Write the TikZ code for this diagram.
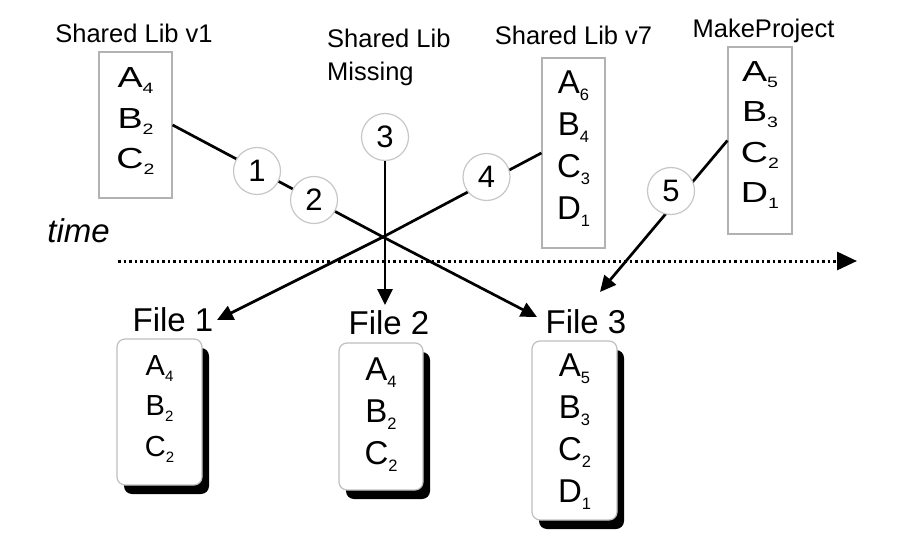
\documentclass[tikz,border=0pt]{standalone}
\usepackage{fontspec}
\setmainfont{Liberation Sans}
\newfontfamily\widefont[FakeStretch=1.3]{Liberation Sans}
\usetikzlibrary{arrows.meta,shadows}
\newcommand\subA[1]{\raisebox{-6pt}{\fontsize{15}{15}\selectfont #1}}
\newcommand\subB[1]{\raisebox{-7pt}{\fontsize{16.5}{16.5}\selectfont #1}}
\newcommand\rows[2]{\raisebox{#1}[0pt][0pt]{\begin{tabular}[b]{@{}c@{}}#2\end{tabular}}}
\begin{document}
\begin{tikzpicture}[x=1pt,y=-1pt,
  libbox/.style={draw=black!30, line width=1.2pt, fill=white, inner sep=0pt},
  filebox/.style={draw=black!25, line width=1.2pt, fill=white, inner sep=0pt, rounded corners=8pt,
    drop shadow={shadow xshift=7pt,shadow yshift=-9pt,opacity=1,fill=black}},
  small/.style={font=\fontsize{29}{40.5}\selectfont},
  widesmall/.style={font=\widefont\fontsize{29}{40.5}\selectfont},
  big/.style={font=\fontsize{33}{42}\selectfont},
  lbl/.style={font=\fontsize{25.5}{33}\selectfont, inner sep=0pt, anchor=base},
  flbl/.style={font=\fontsize{33}{33}\selectfont, inner sep=0pt, anchor=base},
  num/.style={circle, draw=black!22, line width=1.2pt, fill=white, minimum size=47pt, inner sep=0pt,
    font=\fontsize{31}{31}\selectfont},
  conn/.style={line width=2.7pt},
  arr/.style={conn, -{Triangle[length=16pt,width=15pt]}},
  timeline/.style={line width=3pt, dash pattern=on 2.8pt off 2.7pt, -{Triangle[length=20pt,width=18pt]}},
]
\useasboundingbox (0,0) rectangle (910,556);

% source boxes
\node[libbox, widesmall, minimum width=73pt, minimum height=146pt] (v1) at (135.5,125)
  {\rows{-44pt}{A\subA{4}\\B\subA{2}\\C\subA{2}}};
\node[libbox, big, minimum width=63pt, minimum height=190pt] (v7) at (573.5,153)
  {\rows{-67pt}{A\subB{6}\\B\subB{4}\\C\subB{3}\\D\subB{1}}};
\node[libbox, widesmall, minimum width=64pt, minimum height=187pt] (mp) at (760,140.5)
  {\rows{-62.5pt}{A\subA{5}\\B\subA{3}\\C\subA{2}\\D\subA{1}}};

% file boxes
\node[filebox, small, minimum width=85pt, minimum height=146pt] (f1) at (159.5,412)
  {\rows{-44pt}{A\subA{4}\\B\subA{2}\\C\subA{2}}};
\node[filebox, big, minimum width=84pt, minimum height=147pt] (f2) at (381,416.5)
  {\rows{-47.5pt}{A\subB{4}\\B\subB{2}\\C\subB{2}}};
\node[filebox, big, minimum width=85pt, minimum height=179pt] (f3) at (574.5,430.5)
  {\rows{-71.5pt}{A\subB{5}\\B\subB{3}\\C\subB{2}\\D\subB{1}}};

% labels
\node[lbl] (v1l) at (134,43) {Shared Lib v1};
\node[lbl, anchor=north west, align=left] (missl) at (327,28.5) {Shared Lib\\Missing};
\node[lbl] (v7l) at (573.5,45) {Shared Lib v7};
\node[lbl] (mpl) at (763.5,38) {MakeProject};
\node[flbl] (f1l) at (173,331) {File 1};
\node[flbl] (f2l) at (389,334) {File 2};
\node[flbl] (f3l) at (586,333) {File 3};
\node[flbl, font=\fontsize{33}{33}\selectfont\itshape] (timel) at (78.5,242) {time};

% coordinates
\coordinate (X) at (383,237);
\coordinate (t1) at (217,320);
\coordinate (t2) at (385,305);
\coordinate (t3) at (537,317);
\coordinate (t5) at (600,292);
\coordinate (ts) at (118,261);
\coordinate (te) at (857,261);

% time axis
\draw[timeline] (ts) -- (te);

% connectors
\draw[arr] (v1.east) -- (X) -- (t3);
\draw[arr] (v7.west) -- (X) -- (t1);
\draw[arr] (mp.west) -- (t5);

% step numbers
\node[num] (c1) at (257,171) {1};
\node[num] (c2) at (314,200) {2};
\node[num] (c3) at (385,137) {3};
\node[num] (c4) at (486.5,177) {4};
\node[num] (c5) at (671,191) {5};

\draw[arr] (c3.south) -- (t2);
\end{tikzpicture}
\end{document}
